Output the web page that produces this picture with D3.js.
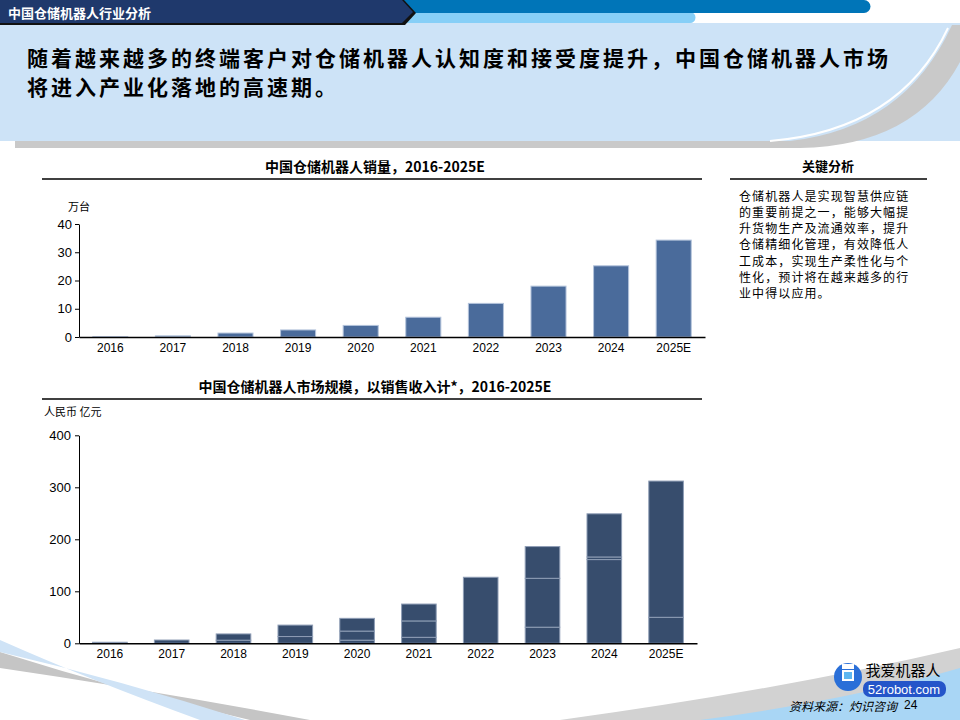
<!DOCTYPE html>
<html>
<head>
<meta charset="utf-8">
<script src="https://cdn.jsdelivr.net/npm/d3@7"></script>
<style>
  body { margin: 0; background: #fff; }
  svg { display: block; font-family: 'Liberation Sans', Arial, sans-serif; }
  .cn { font-family: 'Noto Sans CJK SC', sans-serif; }
</style>
</head>
<body>
<svg width="960" height="720"></svg>
<script>
// categories
let years = ['2016','2017','2018','2019','2020','2021','2022','2023','2024','2025E'];

// sales volume, 万台
let salesVolume = [0.1, 0.4, 1.4, 2.5, 4.1, 7.0, 11.9, 18.0, 25.2, 34.3];
let volTicks = [0, 10, 20, 30, 40];

// market size, 人民币 亿元 (stacked pieces, bottom to top)
let sizePart1 = [2, 6.3, 6, 13, 6, 11.5, 127, 31, 161, 50];
let sizePart2 = [0, 0, 12, 22, 17.5, 31.5, 0, 94, 5, 262];
let sizePart3 = [0, 0, 0, 0, 24.5, 32.5, 0, 61, 83, 0];
let sizeTicks = [0, 100, 200, 300, 400];

let keyText = [
    '仓储机器人是实现智慧供应链',
    '的重要前提之一，能够大幅提',
    '升货物生产及流通效率，提升',
    '仓储精细化管理，有效降低人',
    '工成本，实现生产柔性化与个',
    '性化，预计将在越来越多的行',
    '业中得以应用。'
];

let svg = d3.select('svg');

//page background + header
let drawPage = () => {
    svg.append('rect')
        .attr('x', 0).attr('y', 23)
        .attr('width', 960).attr('height', 118)
        .attr('fill', '#cde3f7');

    // grey swoosh under the blue band
    svg.append('path')
        .attr('d', 'M15,141 L790,141 Q905,128 952,25 L960,25 L960,62 Q915,146 800,148 L15,148 Z')
        .attr('fill', '#c9c9c9');
    svg.append('path')
        .attr('d', 'M770,141 Q900,130 948,28')
        .attr('fill', 'none')
        .attr('stroke', '#fff')
        .attr('stroke-width', 2);

    // header bars
    svg.append('path')
        .attr('d', 'M398,12 H690 a5.5,5.5 0 0 1 0,11 H398 Z')
        .attr('fill', '#87cff7');
    svg.append('path')
        .attr('d', 'M400,0 H864 a6.5,6.5 0 0 1 0,13 H400 Z')
        .attr('fill', '#0075b8');
    svg.append('path')
        .attr('d', 'M0,0 H404 L416,13 L405,25 H0 Z')
        .attr('fill', '#111');
    svg.append('path')
        .attr('d', 'M0,0 H402 L413,12 L402,23 H0 Z')
        .attr('fill', '#1f396c');
    svg.append('text')
        .attr('class', 'cn')
        .attr('x', 8).attr('y', 12)
        .attr('dominant-baseline', 'central')
        .attr('fill', '#fff')
        .style('font-size', '13px')
        .style('font-weight', 'bold')
        .text('中国仓储机器人行业分析');

    // headline
    let head = ['随着越来越多的终端客户对仓储机器人认知度和接受度提升，中国仓储机器人市场',
                '将进入产业化落地的高速期。'];
    svg.selectAll('.headline')
        .data(head)
        .enter()
        .append('text')
        .attr('class', 'cn headline')
        .attr('x', 27)
        .attr('y', (d, i) => 57 + i * 29)
        .attr('dominant-baseline', 'central')
        .style('font-size', '21px')
        .style('font-weight', 'bold')
        .style('letter-spacing', '3px')
        .text(d => d);

    // bottom swooshes
    svg.append('path')
        .attr('d', 'M0,652 Q120,690 250,720 L310,720 Q150,690 0,668 Z')
        .attr('fill', '#c5c5c5');
    svg.append('path')
        .attr('d', 'M0,640 Q90,680 200,720 L245,720 Q120,680 0,652 Z')
        .attr('fill', '#cfe3f6');
    svg.append('path')
        .attr('d', 'M560,720 Q780,690 960,648 L960,690 Q820,705 720,720 Z')
        .attr('fill', '#d2d2d2');
    svg.append('path')
        .attr('d', 'M700,720 Q850,700 960,668 L960,720 Z')
        .attr('fill', '#a9d6f5');
}

let chartTitle = (txt, y) => {
    svg.append('text')
        .attr('class', 'cn')
        .attr('x', 375).attr('y', y)
        .attr('text-anchor', 'middle')
        .attr('dominant-baseline', 'central')
        .style('font-size', '14px')
        .style('font-weight', 'bold')
        .text(txt);
    svg.append('line')
        .attr('x1', 42).attr('x2', 702)
        .attr('y1', y + 13).attr('y2', y + 13)
        .attr('stroke', '#000')
        .attr('stroke-width', 1.5);
}

let styleAxis = (g, size) => {
    g.selectAll('path, line').attr('stroke', '#000');
    g.selectAll('text')
        .attr('fill', '#000')
        .style('font-size', size)
        .style('font-family', "'Liberation Sans', Arial, sans-serif");
}

//chart 1 - sales volume
let drawVolume = () => {
    chartTitle('中国仓储机器人销量，2016-2025E', 166);

    svg.append('text')
        .attr('class', 'cn')
        .attr('x', 68).attr('y', 206)
        .attr('dominant-baseline', 'central')
        .style('font-size', '11px')
        .text('万台');

    let xScale = d3.scaleBand()
        .domain(years)
        .range([79, 705])
        .paddingInner(0.44)
        .paddingOuter(0.22);
    let yScale = d3.scaleLinear()
        .domain([0, 40])
        .range([337, 224]);

    svg.selectAll('.vol')
        .data(salesVolume)
        .enter()
        .append('rect')
        .attr('class', 'vol')
        .attr('x', (d, i) => xScale(years[i]))
        .attr('y', d => yScale(d))
        .attr('width', xScale.bandwidth())
        .attr('height', d => yScale(0) - yScale(d))
        .attr('fill', '#4a6b9b')
        .attr('stroke', '#b3c3db')
        .attr('stroke-width', 1);

    let yAxis = svg.append('g')
        .attr('transform', 'translate(79,0)')
        .call(d3.axisLeft(yScale).tickValues(volTicks).tickSize(4).tickPadding(3).tickSizeOuter(0));
    styleAxis(yAxis, '13px');

    let xAxis = svg.append('g')
        .attr('transform', 'translate(0,337)')
        .call(d3.axisBottom(xScale).tickSize(0).tickPadding(6));
    styleAxis(xAxis, '12px');
    xAxis.select('.domain').attr('stroke-width', 1.5);
}

//chart 2 - market size
let drawSize = () => {
    chartTitle('中国仓储机器人市场规模，以销售收入计*，2016-2025E', 386);

    svg.append('text')
        .attr('class', 'cn')
        .attr('x', 44).attr('y', 411)
        .attr('dominant-baseline', 'central')
        .style('font-size', '11px')
        .text('人民币 亿元');

    let xScale = d3.scaleBand()
        .domain(years)
        .range([79, 697])
        .paddingInner(0.44)
        .paddingOuter(0.22);
    let yScale = d3.scaleLinear()
        .domain([0, 400])
        .range([643.3, 435.3]);

    let table = years.map((y, i) => ({ year: y, p1: sizePart1[i], p2: sizePart2[i], p3: sizePart3[i] }));
    let stacked = d3.stack().keys(['p1', 'p2', 'p3'])(table);

    svg.append('g')
        .selectAll('g')
        .data(stacked)
        .enter()
        .append('g')
        .selectAll('rect')
        .data(d => d.filter(s => s[1] > s[0]))
        .enter()
        .append('rect')
        .attr('x', d => xScale(d.data.year))
        .attr('y', d => yScale(d[1]))
        .attr('width', xScale.bandwidth())
        .attr('height', d => yScale(d[0]) - yScale(d[1]))
        .attr('fill', '#374d6d')
        .attr('stroke', '#8e9db5')
        .attr('stroke-width', 1);

    let yAxis = svg.append('g')
        .attr('transform', 'translate(79,0)')
        .call(d3.axisLeft(yScale).tickValues(sizeTicks).tickSize(4).tickPadding(4).tickSizeOuter(0));
    styleAxis(yAxis, '13px');

    let xAxis = svg.append('g')
        .attr('transform', 'translate(0,643.3)')
        .call(d3.axisBottom(xScale).tickSize(0).tickPadding(6));
    styleAxis(xAxis, '12px');
    xAxis.select('.domain').attr('stroke-width', 1.5);
}

//right panel
let drawPanel = () => {
    svg.append('text')
        .attr('class', 'cn')
        .attr('x', 828).attr('y', 165)
        .attr('text-anchor', 'middle')
        .attr('dominant-baseline', 'central')
        .style('font-size', '13px')
        .style('font-weight', 'bold')
        .text('关键分析');
    svg.append('line')
        .attr('x1', 730).attr('x2', 927)
        .attr('y1', 179).attr('y2', 179)
        .attr('stroke', '#000')
        .attr('stroke-width', 1.5);

    svg.selectAll('.key')
        .data(keyText)
        .enter()
        .append('text')
        .attr('class', 'cn key')
        .attr('x', 739)
        .attr('y', (d, i) => 195 + i * 16.3)
        .attr('dominant-baseline', 'central')
        .style('font-size', '12px')
        .style('letter-spacing', '1.1px')
        .text(d => d);
}

//logo + source
let drawFooter = () => {
    svg.append('circle')
        .attr('cx', 848).attr('cy', 677).attr('r', 14)
        .attr('fill', '#2a6fd8');
    svg.append('rect')
        .attr('x', 842).attr('y', 670).attr('width', 12).attr('height', 11)
        .attr('fill', '#fff');
    svg.append('rect')
        .attr('x', 844).attr('y', 672).attr('width', 8).attr('height', 7)
        .attr('fill', '#5fb7f0');
    svg.append('rect')
        .attr('x', 842).attr('y', 664).attr('width', 12).attr('height', 5)
        .attr('fill', '#fff');
    svg.append('text')
        .attr('class', 'cn')
        .attr('x', 903).attr('y', 669)
        .attr('text-anchor', 'middle')
        .attr('dominant-baseline', 'central')
        .style('font-size', '15px')
        .text('我爱机器人');
    svg.append('rect')
        .attr('x', 863).attr('y', 681).attr('width', 83).attr('height', 16).attr('rx', 7)
        .attr('fill', '#2455c9');
    svg.append('text')
        .attr('x', 904).attr('y', 689.5)
        .attr('text-anchor', 'middle')
        .attr('dominant-baseline', 'central')
        .attr('fill', '#fff')
        .style('font-size', '13px')
        .text('52robot.com');
    svg.append('text')
        .attr('class', 'cn')
        .attr('x', 789).attr('y', 705)
        .attr('dominant-baseline', 'central')
        .style('font-size', '12px')
        .style('font-style', 'italic')
        .text('资料来源：灼识咨询');
    svg.append('text')
        .attr('x', 904).attr('y', 705)
        .attr('dominant-baseline', 'central')
        .style('font-size', '12px')
        .text('24');
}

drawPage();
drawVolume();
drawSize();
drawPanel();
drawFooter();
</script>
</body>
</html>
